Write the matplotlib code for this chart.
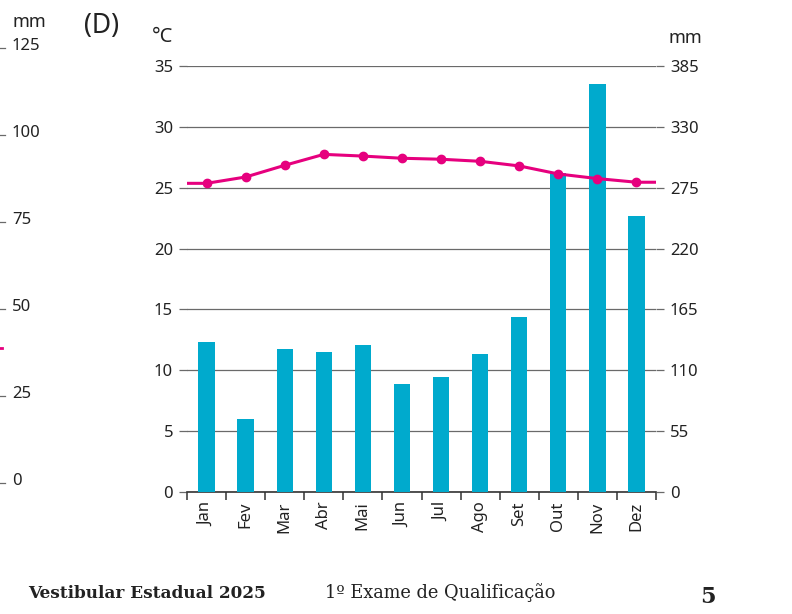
import matplotlib
matplotlib.use("Agg")
import matplotlib.pyplot as plt
import numpy as np

months = ["Jan", "Fev", "Mar", "Abr", "Mai", "Jun", "Jul", "Ago", "Set", "Out", "Nov", "Dez"]
precip_mm = [135.6, 66, 129, 126.5, 132.6, 97.3, 103.6, 124.7, 158.5, 288, 368.4, 249.7]
temp_c = [25.36, 25.88, 26.84, 27.74, 27.6, 27.42, 27.34, 27.17, 26.79, 26.13, 25.75, 25.45]
temp_ticks = [0, 5, 10, 15, 20, 25, 30, 35]
mm_ticks = [0, 55, 110, 165, 220, 275, 330, 385]
prev_mm_ticks = [0, 25, 50, 75, 100, 125]

BAR = "#00AACD"
LINE = "#E6007E"
GRID = "#6a6a6a"
TXT = "#222222"
FONT = ["Noto Sans", "DejaVu Sans"]

plt.rcParams["font.family"] = FONT

W, H = 792, 614
fig = plt.figure(figsize=(W / 100, H / 100), dpi=100)

def fx(px):
    return px / W

def fy(py):
    return 1 - py / H

left, right, top, bottom = 187, 656, 66, 492
ax1 = fig.add_axes([fx(left), fy(bottom), fx(right - left), (bottom - top) / H])
ax1.set_xlim(-0.5, 11.5)
ax1.set_ylim(0, 35)
ax1.set_yticks(temp_ticks)
ax1.set_yticklabels([str(t) for t in temp_ticks], fontsize=12, color=TXT)
ax1.yaxis.grid(True, color=GRID, lw=0.9)
ax1.set_axisbelow(True)
ax1.tick_params(axis="y", direction="out", length=6, width=0.9, color=GRID, pad=4)
for s in ["left", "right", "top"]:
    ax1.spines[s].set_visible(False)
ax1.spines["bottom"].set_color("#333333")
ax1.spines["bottom"].set_linewidth(1.2)
x = np.arange(len(months))
ax1.set_xticks(np.arange(-0.5, len(months), 1.0))
ax1.set_xticklabels([])
ax1.set_xticks(x, minor=True)
ax1.set_xticklabels(months, minor=True, rotation=90, fontsize=12, color=TXT, va="top")
ax1.tick_params(axis="x", which="major", direction="out", length=6, width=1.1, color="#333333")
ax1.tick_params(axis="x", which="minor", length=0, pad=7)

ax2 = ax1.twinx()
ax2.set_ylim(0, 385)
ax2.set_yticks(mm_ticks)
ax2.set_yticklabels([str(t) for t in mm_ticks], fontsize=12, color=TXT)
ax2.tick_params(axis="y", direction="out", length=6, width=0.9, color=GRID, pad=4)
for s in ["left", "right", "top", "bottom"]:
    ax2.spines[s].set_visible(False)
ax2.bar(x, precip_mm, width=0.42, color=BAR, zorder=2)

ax3 = ax1.twinx()
ax3.set_ylim(0, 35)
ax3.axis("off")
xl = np.concatenate([[-0.5], x, [len(months) - 0.5]])
yl = [temp_c[0]] + temp_c + [temp_c[-1]]
ax3.plot(xl, yl, color=LINE, lw=2.2, zorder=3, solid_capstyle="butt")
ax3.plot(x, temp_c, "o", color=LINE, ms=6, zorder=4)
ax3.set_xlim(-0.5, 11.5)

# unit labels
fig.text(fx(152), fy(37), "°C", fontsize=14.5, color=TXT, va="center", ha="left")
fig.text(fx(668), fy(38), "mm", fontsize=13, color=TXT, va="center", ha="left")
fig.text(fx(84), fy(26), "(D)", fontsize=19, color=TXT, va="center", ha="left")

# remnants of previous chart at left edge
fig.text(fx(12), fy(22), "mm", fontsize=13, color=TXT, va="center", ha="left")
for i, v in enumerate(prev_mm_ticks):
    py = 481 - i * 87
    fig.text(fx(12), fy(py), str(v), fontsize=12, color=TXT, va="center", ha="left")
    fig.add_artist(plt.Line2D([0, fx(5)], [fy(py + 1.5), fy(py + 1.5)], color=GRID, lw=0.9))
fig.add_artist(plt.Line2D([0, fx(2)], [fy(348), fy(348)], color=LINE, lw=2))

# footer
fig.text(fx(28), fy(593), "Vestibular Estadual 2025", fontsize=12.2, fontweight="bold",
         family="DejaVu Serif", color=TXT, va="center", ha="left")
fig.text(fx(325), fy(593), "1º Exame de Qualificação", fontsize=12.8,
         family="DejaVu Serif", color=TXT, va="center", ha="left")
fig.text(fx(700), fy(597), "5", fontsize=16, fontweight="bold",
         family="DejaVu Serif", color=TXT, va="center", ha="left")

fig.savefig("out.png", dpi=100, facecolor="white")
